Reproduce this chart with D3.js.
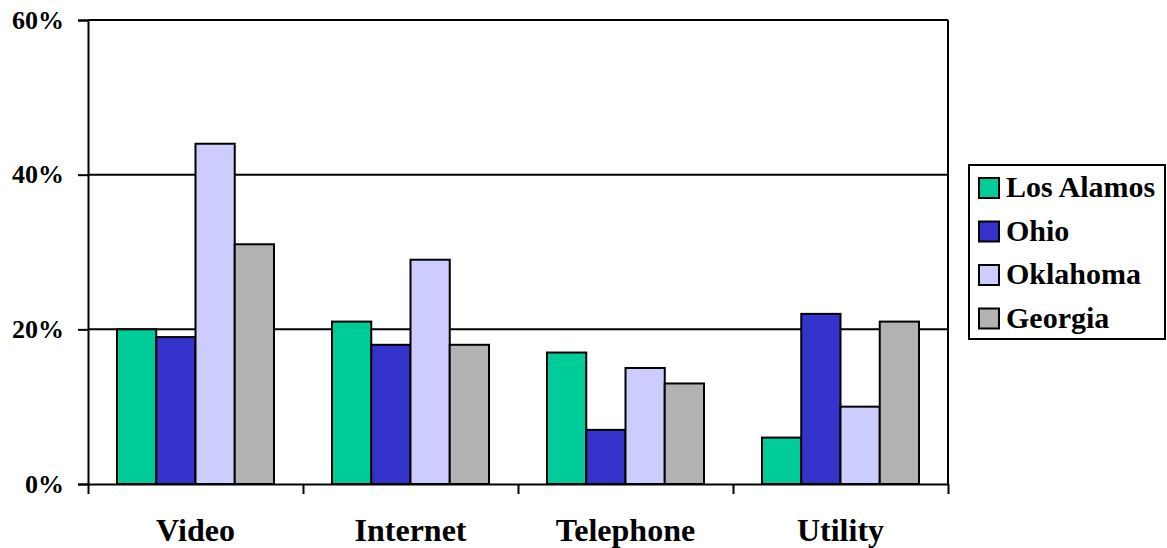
<!DOCTYPE html>
<html>
<head>
<meta charset="utf-8">
<script src="https://cdn.jsdelivr.net/npm/d3@7"></script>
<style>
  html, body { margin: 0; padding: 0; background: #fff; }
</style>
</head>
<body>
<svg id="chart" width="1167" height="548"></svg>
<script>
// Service categories along the x axis
const categories = ["Video", "Internet", "Telephone", "Utility"];
// Regions shown as grouped bars
const seriesNames = ["Los Alamos", "Ohio", "Oklahoma", "Georgia"];
// Share (%) for each region, in category order
const losAlamos = [20, 21, 17, 6];
const ohio      = [19, 18, 7, 22];
const oklahoma  = [44, 29, 15, 10];
const georgia   = [31, 18, 13, 21];
// Y axis ticks (%)
const yTicks = [0, 20, 40, 60];

const seriesValues = [losAlamos, ohio, oklahoma, georgia];
const colors = ["#00CC99", "#3333CC", "#CCCCFF", "#B2B2B2"];
const FONT = "Liberation Serif";

const svg = d3.select("#chart");
const plot = { left: 88, right: 948, top: 20, bottom: 484 };

function serifText(sel, size) {
  return sel.style("font-family", FONT).style("font-weight", "bold")
    .style("font-size", size + "px").style("fill", "#000");
}

const x0 = d3.scaleBand().domain(categories).range([plot.left, plot.right]).padding(0);
const x1 = d3.scaleBand().domain(seriesNames).range([0, x0.bandwidth()])
  .paddingInner(0).paddingOuter(0.739);
const y = d3.scaleLinear().domain([0, 60]).range([plot.bottom, plot.top]);

// Horizontal gridlines
svg.append("g").selectAll("line").data(yTicks.filter(d => d > 0)).join("line")
  .attr("x1", plot.left).attr("x2", plot.right)
  .attr("y1", d => y(d)).attr("y2", d => y(d))
  .attr("stroke", "#000").attr("stroke-width", 2);

// Bars
const groups = svg.append("g").selectAll("g").data(categories).join("g")
  .attr("transform", d => `translate(${x0(d)},0)`);
groups.selectAll("rect")
  .data((c, ci) => seriesNames.map((s, si) => ({ s, si, v: seriesValues[si][ci] })))
  .join("rect")
  .attr("x", d => x1(d.s))
  .attr("y", d => y(d.v))
  .attr("width", x1.bandwidth())
  .attr("height", d => y(0) - y(d.v))
  .attr("fill", d => colors[d.si])
  .attr("stroke", "#000").attr("stroke-width", 2);

// Right frame edge
svg.append("line")
  .attr("x1", plot.right).attr("x2", plot.right)
  .attr("y1", plot.top).attr("y2", plot.bottom)
  .attr("stroke", "#000").attr("stroke-width", 2);

// Y axis
const yAxis = d3.axisLeft(y).tickValues(yTicks).tickFormat(d => d + "%")
  .tickSize(10).tickPadding(14);
const gy = svg.append("g").attr("transform", `translate(${plot.left},0)`).call(yAxis);
gy.select(".domain").attr("stroke", "#000").attr("stroke-width", 2);
gy.selectAll(".tick line").attr("stroke", "#000").attr("stroke-width", 2);
serifText(gy.selectAll(".tick text"), 26);

// X axis: ticks fall on category boundaries
const boundaries = categories.map(c => x0(c)).concat([plot.right]);
const xb = d3.scaleLinear().domain([plot.left, plot.right]).range([plot.left, plot.right]);
const gx = svg.append("g").attr("transform", `translate(0,${plot.bottom})`)
  .call(d3.axisBottom(xb).tickValues(boundaries).tickFormat("").tickSize(10).tickSizeOuter(0));
gx.select(".domain").attr("stroke", "#000").attr("stroke-width", 2);
gx.selectAll(".tick line").attr("stroke", "#000").attr("stroke-width", 2);

// Category labels
serifText(svg.append("g").selectAll("text").data(categories).join("text")
  .attr("x", d => x0(d) + x0.bandwidth() / 2)
  .attr("y", 541)
  .attr("text-anchor", "middle")
  .text(d => d), 32);

// Legend
const legend = svg.append("g").attr("transform", "translate(969,165)");
legend.append("rect").attr("x", 0).attr("y", 0).attr("width", 196).attr("height", 174)
  .attr("fill", "#fff").attr("stroke", "#000").attr("stroke-width", 2);
const items = legend.selectAll("g.item").data(seriesNames).join("g")
  .attr("class", "item")
  .attr("transform", (d, i) => `translate(10,${13 + i * 43.5})`);
items.append("rect").attr("width", 20).attr("height", 20)
  .attr("fill", (d, i) => colors[i]).attr("stroke", "#000").attr("stroke-width", 2);
serifText(items.append("text").attr("x", 27).attr("y", 19).text(d => d), 30);
</script>
</body>
</html>
